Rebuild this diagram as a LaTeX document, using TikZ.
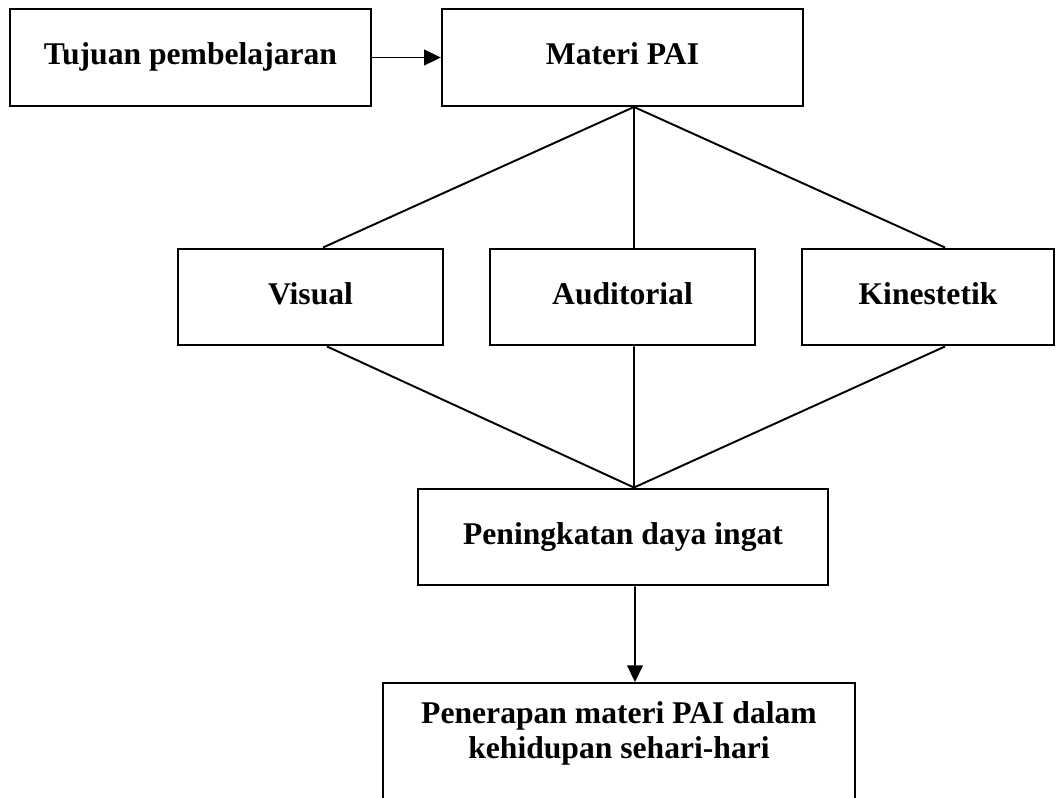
\documentclass[tikz,border=0pt]{standalone}
\usepackage{fontspec}
\setmainfont{Liberation Serif}
\usetikzlibrary{arrows.meta}

\begin{document}
\begin{tikzpicture}[x=0.02cm, y=-0.02cm,
    box/.style = {shape=rectangle, draw, line width=1.4pt, align=center,
      minimum height=1.93cm, inner sep=0pt,
      font=\fontsize{18}{20}\selectfont\bfseries},
    onebox/.style = {box, text height=12.4pt, text depth=4pt},
    link/.style = {line width=1.1pt},
    arrow/.style = {line width=0.9pt, -{Triangle[length=9.5pt, width=9pt]}}]
    \useasboundingbox (0,0) rectangle (1056,798);
    % top row
    \node[onebox, minimum width=7.22cm] (tujuan) at (190.5,57.5) {Tujuan pembelajaran};
    \node[onebox, minimum width=7.22cm] (materi) at (622.5,57.5) {Materi PAI};
    % learning styles
    \node[onebox, minimum width=5.3cm] (visual) at (310.5,297) {Visual};
    \node[onebox, minimum width=5.3cm] (auditorial) at (622.5,297) {Auditorial};
    \node[onebox, minimum width=5.04cm] (kinestetik) at (928,297) {Kinestetik};
    % results
    \node[onebox, minimum width=8.2cm] (ingat) at (623,537) {Peningkatan daya ingat};
    \node[box, anchor=north, minimum width=9.44cm, inner sep=0.36cm] (terap) at (619,682)
      {\parbox[t][3cm][t]{8.6cm}{\centering Penerapan materi PAI dalam\\ kehidupan sehari-hari}};

    \draw[arrow] (tujuan.east) -- (materi.west);
    \draw[link] ([xshift=0.23cm]materi.south) -- ([xshift=0.25cm]visual.north);
    \draw[link] ([xshift=0.23cm]materi.south) -- ([xshift=0.23cm]auditorial.north);
    \draw[link] ([xshift=0.23cm]materi.south) -- ([xshift=0.34cm]kinestetik.north);
    \draw[link] ([xshift=0.33cm]visual.south) -- ([xshift=0.22cm]ingat.north);
    \draw[link] ([xshift=0.23cm]auditorial.south) -- ([xshift=0.22cm]ingat.north);
    \draw[link] ([xshift=0.34cm]kinestetik.south) -- ([xshift=0.22cm]ingat.north);
    \draw[arrow] ([xshift=0.24cm]ingat.south) -- ([xshift=0.32cm]terap.north);
\end{tikzpicture}
\end{document}
